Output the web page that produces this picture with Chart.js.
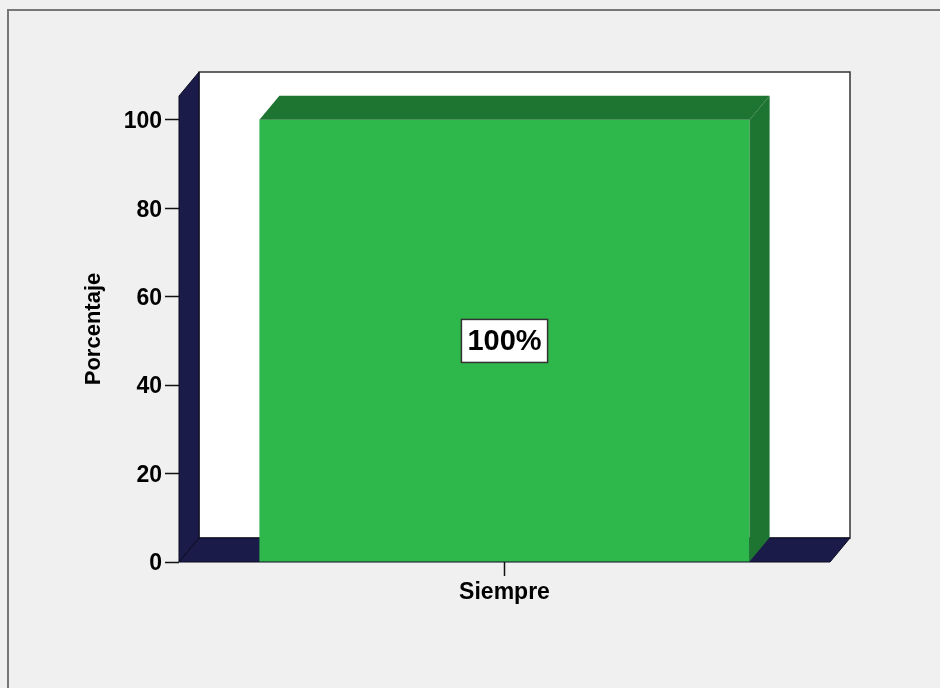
<!DOCTYPE html>
<html>
<head>
<meta charset="utf-8">
<script src="https://cdn.jsdelivr.net/npm/chart.js@4.4.1/dist/chart.umd.min.js"></script>
<style>
  body { margin: 0; background: #f0f0f0; }
  canvas { display: block; }
</style>
</head>
<body>
<canvas id="chart" width="940" height="688"></canvas>
<script>
const categories = ["Siempre"];
const percentages = [100];
const valueLabels = ["100%"];
const yTicks = [0, 20, 40, 60, 80, 100];
const yTitle = "Porcentaje";

const FONT = "'Liberation Sans', Arial, sans-serif";
const DX = 20, DY = 24; // depth of the 3d box
const navy = "#1b1b49";
const green = "#2eb84b";
const darkGreen = "#1e7431";

function poly(c, pts, fill, stroke) {
  c.beginPath();
  pts.forEach(([x, y], i) => (i ? c.lineTo(x, y) : c.moveTo(x, y)));
  c.closePath();
  c.fillStyle = fill;
  c.fill();
  if (stroke) {
    c.strokeStyle = stroke;
    c.lineWidth = 1;
    c.stroke();
  }
}

const box3d = {
  id: "box3d",
  beforeDraw(chart) {
    const c = chart.ctx;
    c.save();
    c.fillStyle = "#f0f0f0";
    c.fillRect(0, 0, chart.width, chart.height);
    c.strokeStyle = "#777";
    c.lineWidth = 2;
    c.beginPath();
    c.moveTo(8, chart.height);
    c.lineTo(8, 10);
    c.lineTo(chart.width, 10);
    c.stroke();
    c.restore();
  },
  beforeDatasetsDraw(chart) {
    const c = chart.ctx;
    const { left: L, right: R, top: T, bottom: B } = chart.chartArea;
    c.save();
    // back wall
    c.fillStyle = "#fff";
    c.fillRect(L + DX, T - DY, R - L, B - T);
    c.strokeStyle = "#333";
    c.lineWidth = 1.5;
    c.strokeRect(L + DX, T - DY, R - L, B - T);
    // left wall + floor
    poly(c, [[L, T], [L + DX, T - DY], [L + DX, B - DY], [L, B]], navy, "#0a0a20");
    poly(c, [[L, B], [L + DX, B - DY], [R + DX, B - DY], [R, B]], navy, "#0a0a20");
    c.restore();
  },
  afterDatasetsDraw(chart) {
    const c = chart.ctx;
    const yScale = chart.scales.y;
    c.save();
    chart.getDatasetMeta(0).data.forEach((bar, i) => {
      const { x, y, base, width } = bar.getProps(["x", "y", "base", "width"], true);
      const l = x - width / 2, r = x + width / 2;
      poly(c, [[l, y], [l + DX, y - DY], [r + DX, y - DY], [r, y]], darkGreen);
      poly(c, [[r, y], [r + DX, y - DY], [r + DX, base - DY], [r, base]], darkGreen);

      // value label in a box
      const ly = yScale.getPixelForValue(percentages[i] / 2);
      c.font = "bold 29px " + FONT;
      const tw = c.measureText(valueLabels[i]).width;
      const bw = tw + 12, bh = 43;
      c.fillStyle = "#fff";
      c.fillRect(x - bw / 2, ly - bh / 2, bw, bh);
      c.strokeStyle = "#333";
      c.lineWidth = 1.5;
      c.strokeRect(x - bw / 2, ly - bh / 2, bw, bh);
      c.fillStyle = "#000";
      c.textAlign = "center";
      c.textBaseline = "middle";
      c.fillText(valueLabels[i], x, ly + 1);
    });
    c.restore();
  }
};

new Chart(document.getElementById("chart"), {
  type: "bar",
  data: {
    labels: categories,
    datasets: [{
      data: percentages,
      backgroundColor: green,
      borderWidth: 0,
      categoryPercentage: 1,
      barPercentage: 0.753
    }]
  },
  options: {
    responsive: false,
    animation: false,
    layout: { padding: { left: 77, right: 110, top: 96, bottom: 0 } },
    plugins: { legend: { display: false }, tooltip: { enabled: false } },
    scales: {
      x: {
        afterFit: (s) => { s.height = 126; },
        border: { display: false },
        grid: { offset: false, drawOnChartArea: false, tickLength: 14, tickWidth: 1.5, color: "#111" },
        ticks: { color: "#000", padding: 3, font: { family: FONT, size: 23, weight: "bold" } }
      },
      y: {
        min: 0,
        max: 105.4,
        bounds: "data",
        afterFit: (s) => { s.width = 102; },
        afterBuildTicks: (s) => { s.ticks = yTicks.map((v) => ({ value: v })); },
        border: { display: false },
        grid: { drawOnChartArea: false, tickLength: 14, tickWidth: 1.5, color: "#111" },
        ticks: { color: "#000", padding: 3, labelOffset: 2, font: { family: FONT, size: 23, weight: "bold" } },
        title: {
          display: true,
          text: yTitle,
          color: "#000",
          font: { family: FONT, size: 22, weight: "bold" }
        }
      }
    }
  },
  plugins: [box3d]
});
</script>
</body>
</html>
